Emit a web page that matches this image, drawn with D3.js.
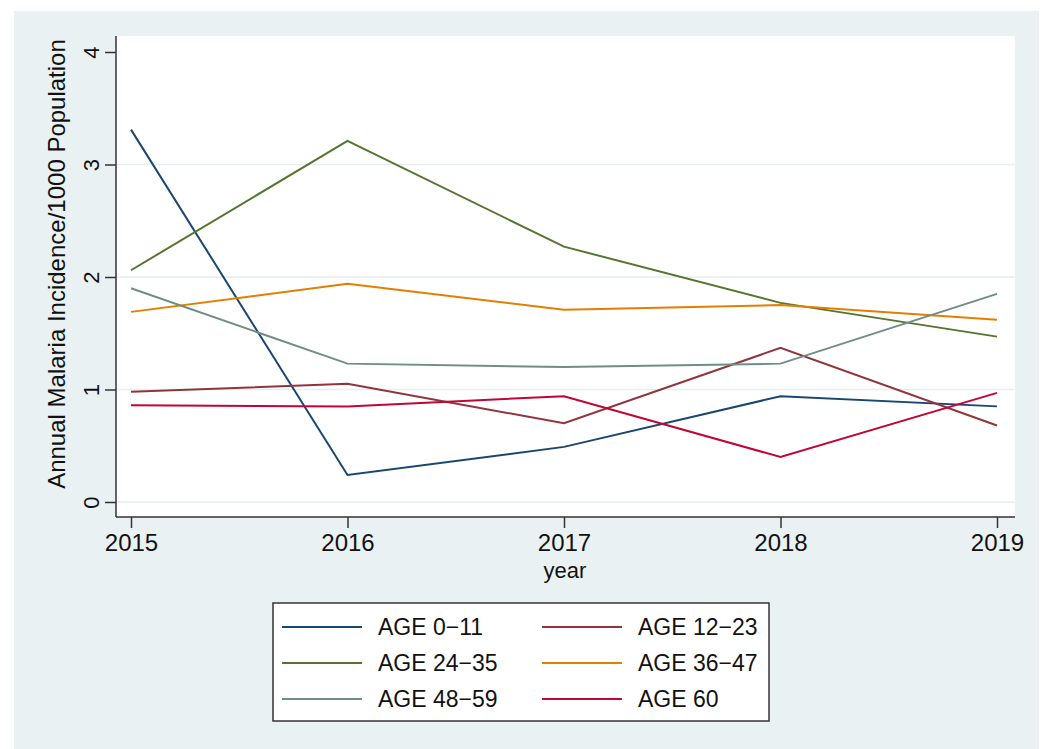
<!DOCTYPE html>
<html>
<head>
<meta charset="utf-8">
<title>Malaria incidence by age</title>
<style>
  body { margin: 0; background: #fff; }
  text { font-family: "Liberation Sans", Arial, sans-serif; fill: #111; }
</style>
</head>
<body>
<svg></svg>
<script src="https://d3js.org/d3.v7.min.js"></script>
<script>
var years = [2015, 2016, 2017, 2018, 2019];
var seriesNames = ["AGE 0\u221211", "AGE 12\u221223", "AGE 24\u221235", "AGE 36\u221247", "AGE 48\u221259", "AGE 60"];
var age0_11  = [3.31, 0.24, 0.49, 0.94, 0.85];
var age12_23 = [0.98, 1.05, 0.70, 1.37, 0.68];
var age24_35 = [2.06, 3.21, 2.27, 1.77, 1.47];
var age36_47 = [1.69, 1.94, 1.71, 1.75, 1.62];
var age48_59 = [1.90, 1.23, 1.20, 1.23, 1.85];
var age60    = [0.86, 0.85, 0.94, 0.40, 0.97];
var yTicks = [0, 1, 2, 3, 4];
var colors = ["#1a476f", "#90353b", "#55752f", "#e37e00", "#6e8e84", "#c10534"];

var series = [age0_11, age12_23, age24_35, age36_47, age48_59, age60];

var width = 1043, height = 749;
var plot = { left: 116, right: 1015, top: 36, bottom: 517 };

var svg = d3.select('svg').attr('width', width).attr('height', height);

// stata-ish background panel
svg.append('rect').attr('x', 14).attr('y', 11).attr('width', 1025).attr('height', 745)
    .attr('fill', '#eaf1f3');
svg.append('rect').attr('x', plot.left).attr('y', plot.top)
    .attr('width', plot.right - plot.left).attr('height', plot.bottom - plot.top)
    .attr('fill', '#fff');

var x = d3.scaleLinear().domain([2015, 2019]).range([131, 997]);
var y = d3.scaleLinear().domain([0, 4]).range([502, 52]);

// grid
svg.append('g').selectAll('line').data(yTicks.filter(d => d < 4)).join('line')
    .attr('x1', plot.left).attr('x2', plot.right)
    .attr('y1', d => y(d)).attr('y2', d => y(d))
    .attr('stroke', '#e6eef0').attr('stroke-width', 1.5);

// lines
var line = d3.line().x((d, i) => x(years[i])).y(d => y(d));
svg.append('g').selectAll('path').data(series).join('path')
    .attr('d', d => line(d))
    .attr('fill', 'none')
    .attr('stroke', (d, i) => colors[i])
    .attr('stroke-width', 2);

// axes
var yAxis = svg.append('g').attr('transform', `translate(${plot.left},0)`)
    .call(d3.axisLeft(y).tickValues(yTicks).tickSize(11).tickSizeOuter(0).tickFormat(d3.format('d')));
yAxis.select('.domain').remove();
yAxis.selectAll('.tick line').attr('stroke', '#333').attr('stroke-width', 1.5);
yAxis.selectAll('.tick text')
    .attr('transform', 'rotate(-90)')
    .attr('x', 0).attr('y', -17).attr('dy', 0)
    .attr('text-anchor', 'middle')
    .style('font-size', '22px');

var xAxis = svg.append('g').attr('transform', `translate(0,${plot.bottom})`)
    .call(d3.axisBottom(x).tickValues(years).tickSize(11).tickSizeOuter(0).tickFormat(d3.format('d')));
xAxis.select('.domain').remove();
xAxis.selectAll('.tick line').attr('stroke', '#333').attr('stroke-width', 1.5);
xAxis.selectAll('.tick text').attr('y', 34).attr('dy', 0).style('font-size', '24px');

svg.append('line').attr('x1', plot.left).attr('x2', plot.left)
    .attr('y1', plot.top).attr('y2', plot.bottom).attr('stroke', '#333').attr('stroke-width', 1.5);
svg.append('line').attr('x1', plot.left).attr('x2', plot.right)
    .attr('y1', plot.bottom).attr('y2', plot.bottom).attr('stroke', '#333').attr('stroke-width', 1.5);

// axis titles
svg.append('text').attr('transform', 'translate(65,264) rotate(-90)')
    .attr('text-anchor', 'middle').style('font-size', '24px')
    .text('Annual Malaria Incidence/1000 Population');
svg.append('text').attr('x', 565).attr('y', 578).attr('text-anchor', 'middle')
    .style('font-size', '22px').text('year');

// legend
var legend = svg.append('g');
legend.append('rect').attr('x', 273).attr('y', 603).attr('width', 496).attr('height', 118)
    .attr('fill', '#fff').attr('stroke', '#333').attr('stroke-width', 1.5);
var item = legend.selectAll('g.item').data(seriesNames).join('g').attr('class', 'item')
    .attr('transform', (d, i) => `translate(${i % 2 ? 542 : 282},${627 + Math.floor(i / 2) * 36})`);
item.append('line').attr('x1', 0).attr('x2', 80).attr('y1', 0).attr('y2', 0)
    .attr('stroke', (d, i) => colors[i]).attr('stroke-width', 2);
item.append('text').attr('x', 96).attr('y', 8).style('font-size', '23px').text(d => d);
</script>
</body>
</html>
